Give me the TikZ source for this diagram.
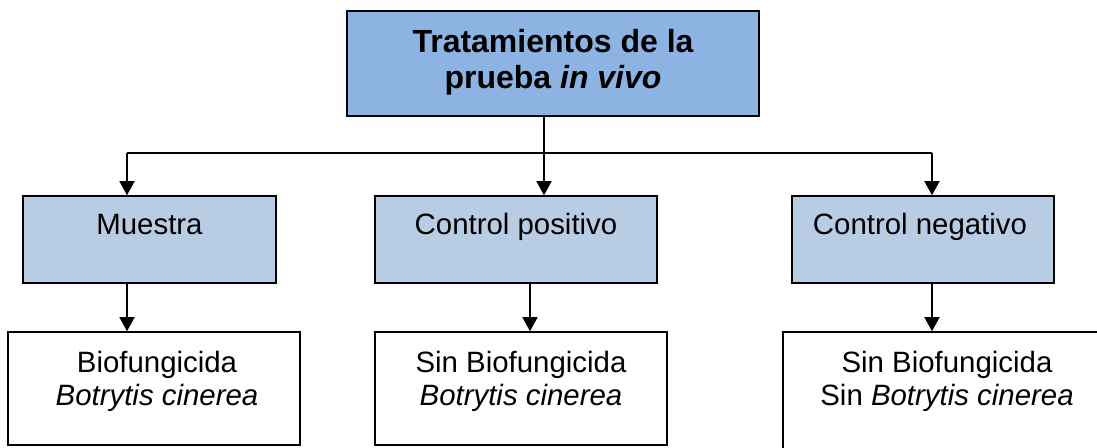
\documentclass[tikz,border=0pt]{standalone}
\usepackage{fontspec}
\setmainfont{Liberation Sans}
\usetikzlibrary{arrows.meta}
\definecolor{titulo}{RGB}{141,179,226}
\definecolor{grupo}{RGB}{184,204,228}

\begin{document}
\begin{tikzpicture}[x=0.5pt,y=-0.5pt,
  caja/.style={draw,line width=0.75pt,inner sep=0pt},
  flecha/.style={line width=0.75pt,-{Triangle[width=7.5pt,length=7pt]}},
  texto/.style={font=\fontsize{14.7}{16.5}\selectfont,inner sep=0pt,align=center}]
  \useasboundingbox (0,0) rectangle (1097,448);
  \clip (0,0) rectangle (1097,448);
  % Titulo
  \node[caja,fill=titulo,minimum width=206pt,minimum height=52.5pt] (trat) at (553,63.5) {};
  \node[font=\bfseries\fontsize{16}{18}\selectfont,inner sep=0pt,align=center,anchor=north]
      (trattxt) at (553,29) {Tratamientos de la\\prueba \textit{in vivo}};
  % Grupos
  \node[caja,fill=grupo,minimum width=126.5pt,minimum height=43.5pt] (muestra) at (149.5,239.5) {};
  \node[caja,fill=grupo,minimum width=141pt,minimum height=43.5pt] (pos) at (516,239.5) {};
  \node[caja,fill=grupo,minimum width=131pt,minimum height=43.5pt] (neg) at (923,239.5) {};
  \node[texto,anchor=base] (muestratxt) at (149.5,235) {Muestra};
  \node[texto,anchor=base] (postxt) at (516,235) {Control positivo};
  \node[texto,anchor=base] (negtxt) at (920,235) {Control negativo};
  % Resultados
  \node[caja,fill=white,minimum width=146pt,minimum height=56.5pt] (res1) at (154,388.5) {};
  \node[caja,fill=white,minimum width=146pt,minimum height=56.5pt] (res2) at (521,388.5) {};
  \node[caja,fill=white,minimum width=164pt,minimum height=69pt] (res3) at (947,401) {};
  \node[texto,anchor=north] (res1txt) at (157,351) {Biofungicida\\\textit{Botrytis cinerea}};
  \node[texto,anchor=north] (res2txt) at (521,351) {Sin Biofungicida\\\textit{Botrytis cinerea}};
  \node[texto,anchor=north] (res3txt) at (947,351) {Sin Biofungicida\\Sin \textit{Botrytis cinerea}};
  % Conectores
  \coordinate (izq) at (127,153);
  \coordinate (der) at (932,153);
  \draw[line width=0.75pt] (izq) -- (der);
  \draw[flecha] ([xshift=-4.5pt]trat.south) -- ([xshift=-4.5pt]trat.south |- pos.north);
  \draw[flecha] (izq) -- (izq |- muestra.north);
  \draw[flecha] (der) -- (der |- neg.north);
  \draw[flecha] (izq |- muestra.south) -- (izq |- res1.north);
  \draw[flecha] ([xshift=7pt]pos.south) -- ([xshift=7pt]pos.south |- res2.north);
  \draw[flecha] (der |- neg.south) -- (der |- res3.north);
\end{tikzpicture}
\end{document}
